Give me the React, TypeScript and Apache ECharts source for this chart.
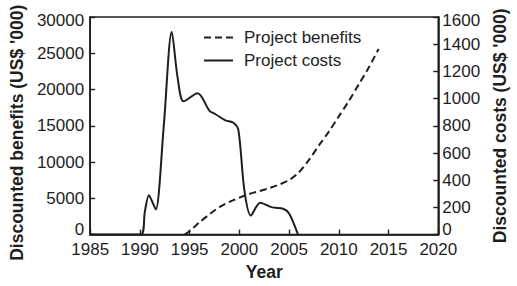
import React, { useEffect, useRef } from "react";
import * as echarts from "echarts";

const costYears = [1985, 1990.1, 1990.5, 1990.9, 1991.25, 1991.6, 1992.4, 1993.2, 1993.8, 1994.4, 1995.8, 1997.0, 1997.6, 1998.6, 1999.4, 1999.9, 2000.5, 2001.15, 2002.1, 2003.3, 2004.4, 2005.0, 2005.9];
const costValues = [0, 0, 170, 290, 240, 185, 800, 1490, 1150, 980, 1040, 910, 885, 840, 822, 770, 330, 140, 235, 200, 190, 155, 0];

const benefitYears = [1994.5, 1995, 1996, 1997, 1998, 1999, 2000, 2001, 2002, 2003, 2004, 2005, 2006, 2007, 2008, 2009, 2010, 2011, 2012, 2013, 2014];
const benefitValues = [0, 500, 1700, 2800, 3800, 4500, 5100, 5600, 6000, 6400, 6900, 7500, 8600, 10300, 12300, 14200, 16300, 18400, 20700, 23000, 25600];

const seriesNames = ["Project benefits", "Project costs"];

const INK = "#1e1e1e";
const FONT = "'Liberation Sans', Arial, Helvetica, sans-serif";

export default function App() {
  const ref = useRef<HTMLDivElement>(null);
  useEffect(() => {
    if (!ref.current) return;
    const chart = echarts.init(ref.current, null, { renderer: "svg" });
    const plain = (v: number) => String(v);
    const yLabel = (max: number) => (v: number) =>
      v === 0 ? "{lo|0}" : v === max ? `{hi|${v}}` : String(v);
    const rich = {
      lo: { color: INK, fontSize: 17, fontFamily: FONT, padding: [0, 0, 10, 0] },
      hi: { color: INK, fontSize: 17, fontFamily: FONT, padding: [6, 0, 0, 0] },
    };
    const axisCommon = {
      axisLine: { show: true, lineStyle: { color: INK, width: 1.6 } },
      axisTick: { show: true, inside: true, length: 5, lineStyle: { color: INK, width: 1.4 } },
      splitLine: { show: false },
      axisLabel: { color: INK, fontSize: 17, fontFamily: FONT, formatter: plain },
      nameTextStyle: { color: INK, fontSize: 17.5, fontWeight: "bold", fontFamily: FONT },
    };
    chart.setOption({
      animation: false,
      backgroundColor: "#ffffff",
      grid: { left: 90, right: 66, top: 17, bottom: 42, show: true, borderColor: INK, borderWidth: 1.6, backgroundColor: "transparent" },
      legend: {
        orient: "vertical",
        left: 203,
        top: 29,
        itemWidth: 29,
        itemHeight: 14,
        itemGap: 6,
        padding: 0,
        data: seriesNames,
        itemStyle: { opacity: 0 },
        textStyle: { color: INK, fontSize: 17, fontFamily: FONT, padding: [0, 0, 0, 6] },
      },
      xAxis: {
        type: "value",
        min: 1985,
        max: 2020,
        interval: 5,
        name: "Year",
        nameLocation: "middle",
        nameGap: 28,
        ...axisCommon,
        axisLabel: { ...axisCommon.axisLabel, margin: 8, lineHeight: 14 },
      },
      yAxis: [
        {
          type: "value",
          min: 0,
          max: 30000,
          interval: 5000,
          position: "left",
          name: "Discounted benefits (US$ '000)",
          nameLocation: "middle",
          nameRotate: 90,
          nameGap: 50,
          ...axisCommon,
          nameTextStyle: { ...axisCommon.nameTextStyle, padding: [0, 14, 0, 0] },
          axisLabel: { ...axisCommon.axisLabel, margin: 6, formatter: yLabel(30000), rich },
        },
        {
          type: "value",
          min: 0,
          max: 1600,
          interval: 200,
          position: "right",
          name: "Discounted costs (US$ '000)",
          nameLocation: "middle",
          nameRotate: 90,
          nameGap: 46,
          ...axisCommon,
          axisLabel: { ...axisCommon.axisLabel, margin: 4, formatter: yLabel(1600), rich },
        },
      ],
      series: [
        {
          name: seriesNames[0],
          type: "line",
          yAxisIndex: 0,
          data: benefitYears.map((y, i) => [y, benefitValues[i]]),
          smooth: 0.3,
          symbol: "none",
          lineStyle: { color: INK, width: 2, type: [7, 4] },
          itemStyle: { color: INK },
        },
        {
          name: seriesNames[1],
          type: "line",
          yAxisIndex: 1,
          data: costYears.map((y, i) => [y, costValues[i]]),
          smooth: 0.3,
          symbol: "none",
          lineStyle: { color: INK, width: 2 },
          itemStyle: { color: INK },
        },
      ],
    });
    return () => chart.dispose();
  }, []);
  return <div ref={ref} style={{ position: "fixed", left: 0, top: 0, width: 517, height: 286 }} />;
}
